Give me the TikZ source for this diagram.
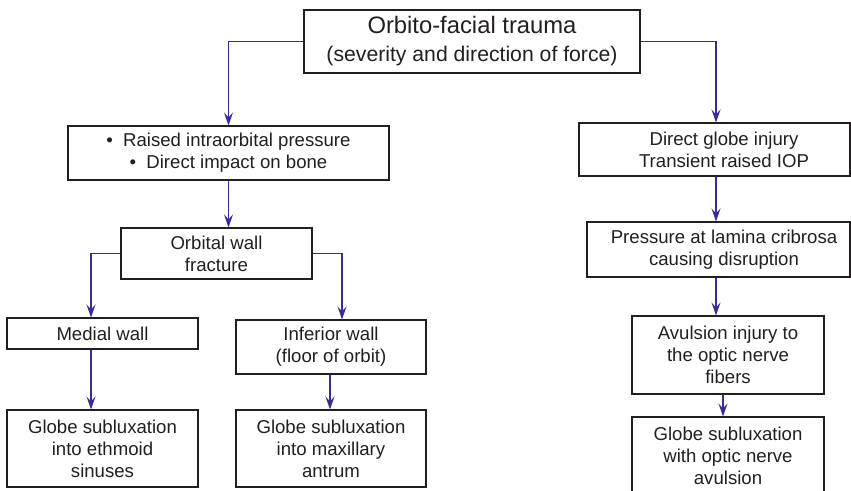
\documentclass[tikz,border=0pt]{standalone}
\usepackage{fontspec}
\setmainfont{Liberation Sans}
\usetikzlibrary{arrows.meta}
\definecolor{arrowblue}{HTML}{3B2A99}
\definecolor{textdark}{HTML}{231F20}
\tikzset{
  box/.style={draw=textdark, line width=1.1pt, inner sep=0pt, align=center,
    text=textdark, font=\fontsize{18.6}{22}\selectfont},
  arr/.style={draw=arrowblue, line width=1.4pt,
    -{Stealth[length=13pt,width=9pt,inset=5pt]}},
}
\begin{document}
\begin{tikzpicture}[x=1pt,y=-1pt]
\clip (0,0) rectangle (851,490);
\fill[white] (0,0) rectangle (851,490);
\coordinate (c91) at (91,0);
\coordinate (c330) at (330,0);
\coordinate (c342) at (342,0);
\coordinate (c716) at (716,0);
\coordinate (c723) at (723,0);

\node[box, minimum width=336pt, minimum height=63pt, font=\fontsize{21.2}{28}\selectfont] (top) at (472,41.5)
  {{\fontsize{23.8}{28}\selectfont Orbito-facial trauma}\\(severity and direction of force)};
\node[box, minimum width=321pt, minimum height=54pt] (raised) at (228.5,153)
  {•\hspace{0.55em}Raised intraorbital pressure\\•\hspace{0.55em}Direct impact on bone};
\node[box, minimum width=191pt, minimum height=51pt] (orb) at (216.5,253.5)
  {Orbital wall\\fracture};
\node[box, minimum width=191pt, minimum height=31pt] (med) at (102.5,333.5)
  {Medial wall};
\node[box, minimum width=190pt, minimum height=54pt] (inf) at (331,347)
  {Inferior wall\\(floor of orbit)};
\node[box, minimum width=191pt, minimum height=77pt] (g1) at (102.5,448.5)
  {Globe subluxation\\into ethmoid\\sinuses};
\node[box, minimum width=190pt, minimum height=77pt] (g2) at (331,448.5)
  {Globe subluxation\\into maxillary\\antrum};
\node[box, minimum width=271pt, minimum height=53pt] (dg) at (714.5,149.5)
  {\hspace*{19pt}Direct globe injury\\\hspace*{19pt}Transient raised IOP};
\node[box, minimum width=263pt, minimum height=55pt] (pr) at (718.5,249.5)
  {\hspace*{11pt}Pressure at lamina cribrosa\\\hspace*{11pt}causing disruption};
\node[box, minimum width=192pt, minimum height=78pt] (av) at (728,355)
  {Avulsion injury to\\the optic nerve\\fibers};
\node[box, minimum width=192pt, minimum height=78pt] (g3) at (728,456)
  {Globe subluxation\\with optic nerve\\avulsion};

\draw[arr] (top.west) -| (raised.north);
\draw[arr] (top.east) -| (dg.north -| c716);
\draw[arr] (raised.south) -- (raised.south |- orb.north);
\draw[arr] (orb.west) -| (med.north -| c91);
\draw[arr] (orb.east) -| (inf.north -| c342);
\draw[arr] (med.south -| c91) -- (g1.north -| c91);
\draw[arr] (inf.south -| c330) -- (g2.north -| c330);
\draw[arr] (dg.south -| c716) -- (pr.north -| c716);
\draw[arr] (pr.south -| c716) -- (av.north -| c716);
\draw[arr] (av.south -| c723) -- (g3.north -| c723);
\end{tikzpicture}
\end{document}
